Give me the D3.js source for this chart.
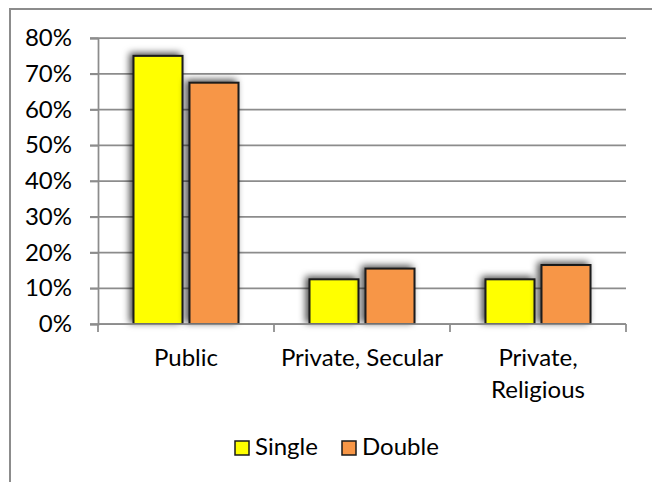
<!DOCTYPE html>
<html>
<head>
<meta charset="utf-8">
<script src="https://cdn.jsdelivr.net/npm/d3@7"></script>
<style>
  body { margin: 0; background: #fff; }
  text { font-family: Lato, "Open Sans", sans-serif; fill: #000; }
</style>
</head>
<body>
<script>
let width = 652, height = 482;

// data
let categories = ['Public', 'Private, Secular', 'Private, Religious'];
let seriesNames = ['Single', 'Double'];
let singleValues = [0.75, 0.125, 0.125];
let doubleValues = [0.675, 0.155, 0.165];
let yTicks = [0, 0.1, 0.2, 0.3, 0.4, 0.5, 0.6, 0.7, 0.8];
let colors = ['#ffff00', '#f79646'];

let plot = {left: 98, right: 626, top: 38, bottom: 324};
let fontSize = 24;

let svg = d3.select('body').append('svg')
    .attr('width', width)
    .attr('height', height);

// shadow behind bars
let defs = svg.append('defs');
let shadow = defs.append('filter').attr('id', 'shadow')
    .attr('x', '-30%').attr('y', '-30%').attr('width', '160%').attr('height', '160%');
shadow.append('feDropShadow')
    .attr('dx', -3).attr('dy', -2)
    .attr('stdDeviation', 3.5)
    .attr('flood-color', '#000')
    .attr('flood-opacity', 0.7);

// outer chart frame (only top and left show in the picture)
svg.append('rect')
    .attr('x', 10).attr('y', 9)
    .attr('width', 800).attr('height', 600)
    .attr('fill', 'none')
    .attr('stroke', '#8c8c8c')
    .attr('stroke-width', 2);

let x0 = d3.scaleBand()
    .domain(categories)
    .range([plot.left, plot.right])
    .padding(0);

let x1 = d3.scaleBand()
    .domain(seriesNames)
    .range([0, x0.bandwidth()])
    .paddingInner(0.125)
    .paddingOuter(0.634);

let y = d3.scaleLinear()
    .domain([0, 0.8])
    .range([plot.bottom, plot.top]);

// gridlines
svg.append('g').selectAll('line')
    .data(yTicks)
    .join('line')
    .attr('x1', plot.left - 8)
    .attr('x2', plot.right)
    .attr('y1', d => y(d))
    .attr('y2', d => y(d))
    .attr('stroke', '#8c8c8c')
    .attr('stroke-width', 1.75);

// y axis
let yAxis = svg.append('g')
    .attr('transform', `translate(${plot.left},0)`)
    .call(d3.axisLeft(y).tickValues(yTicks).tickFormat(d3.format('.0%')).tickSize(8).tickPadding(18));
yAxis.select('.domain').attr('stroke', '#8c8c8c').attr('stroke-width', 1.75);
yAxis.selectAll('.tick line').attr('stroke', '#8c8c8c').attr('stroke-width', 1.75);
yAxis.selectAll('.tick text')
    .attr('font-size', fontSize)
    .attr('font-family', 'Lato, sans-serif')
    .attr('fill', '#000');

// category boundary ticks below the axis
let bounds = categories.map(c => x0(c)).concat([plot.right]);
svg.append('g').selectAll('line')
    .data(bounds)
    .join('line')
    .attr('x1', d => d).attr('x2', d => d)
    .attr('y1', plot.bottom).attr('y2', plot.bottom + 8)
    .attr('stroke', '#8c8c8c')
    .attr('stroke-width', 1.75);

// bars
let rows = categories.map((c, i) => ({cat: c, values: [singleValues[i], doubleValues[i]]}));
let groups = svg.append('g').selectAll('g')
    .data(rows)
    .join('g')
    .attr('transform', d => `translate(${x0(d.cat)},0)`);

groups.selectAll('rect')
    .data(d => d.values.map((v, j) => ({series: seriesNames[j], value: v, color: colors[j]})))
    .join('rect')
    .attr('x', d => x1(d.series))
    .attr('y', d => y(d.value))
    .attr('width', x1.bandwidth())
    .attr('height', d => y(0) - y(d.value))
    .attr('fill', d => d.color)
    .attr('stroke', '#1a1a1a')
    .attr('stroke-width', 2)
    .attr('filter', 'url(#shadow)');

// x axis line drawn over the bar bottoms
svg.append('line')
    .attr('x1', plot.left).attr('x2', plot.right)
    .attr('y1', plot.bottom).attr('y2', plot.bottom)
    .attr('stroke', '#8c8c8c')
    .attr('stroke-width', 1.75);

// category labels, wrapped to the band width
let labels = svg.append('g').selectAll('text')
    .data(categories)
    .join('text')
    .attr('x', d => x0(d) + x0.bandwidth() / 2)
    .attr('y', 366)
    .attr('text-anchor', 'middle')
    .attr('font-size', fontSize);

labels.each(function(d){
    let text = d3.select(this);
    let words = d.split(' ');
    let line = [], lines = [];
    let probe = text.append('tspan');
    words.forEach(w=>{
        let trial = line.concat([w]).join(' ');
        probe.text(trial);
        if(probe.node().getComputedTextLength() > x0.bandwidth() - 6 && line.length){
            lines.push(line.join(' '));
            line = [w];
        } else {
            line.push(w);
        }
    });
    lines.push(line.join(' '));
    probe.remove();
    lines.forEach((l, k)=>{
        text.append('tspan')
            .attr('x', x0(d) + x0.bandwidth() / 2)
            .attr('dy', k === 0 ? 0 : 32)
            .text(l);
    });
});

// legend
let legendItems = [
    {name: seriesNames[0], color: colors[0], x: 235},
    {name: seriesNames[1], color: colors[1], x: 342}
];
let legend = svg.append('g').selectAll('g')
    .data(legendItems)
    .join('g')
    .attr('transform', d => `translate(${d.x},441)`);
legend.append('rect')
    .attr('width', 14).attr('height', 14)
    .attr('fill', d => d.color)
    .attr('stroke', '#1a1a1a')
    .attr('stroke-width', 1.5);
legend.append('text')
    .attr('x', 20)
    .attr('y', 14)
    .attr('font-size', fontSize)
    .text(d => d.name);
</script>
</body>
</html>
